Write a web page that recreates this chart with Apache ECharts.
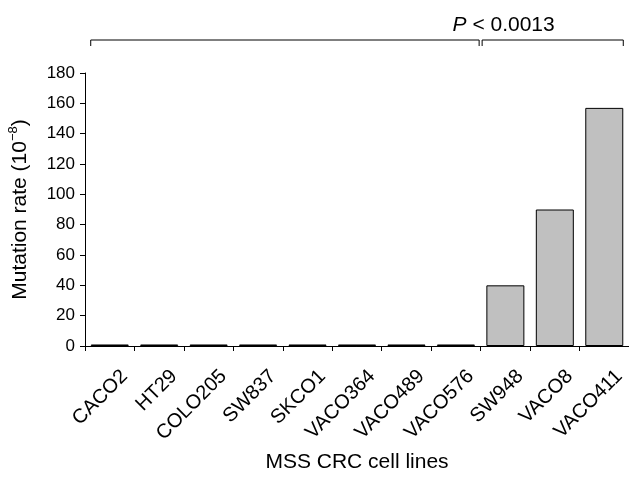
<!DOCTYPE html>
<html>
<head>
<meta charset="utf-8">
<script src="https://cdn.jsdelivr.net/npm/echarts@6/dist/echarts.min.js"></script>
<style>
  html, body { margin: 0; padding: 0; background: #fff; }
  #chart { width: 629px; height: 478px; }
</style>
</head>
<body>
<div id="chart"></div>
<script>
// cell lines and their mutation rates (x 10^-8)
const cellLines = ['CACO2', 'HT29', 'COLO205', 'SW837', 'SKCO1', 'VACO364', 'VACO489', 'VACO576', 'SW948', 'VACO8', 'VACO411'];
const mutationRate = [1, 1, 1, 1, 1, 1, 1, 1, 40, 90, 157];
const yTicks = [0, 180, 20]; // min, max, interval
const pLabel = '0.0013';

const FONT = 'Liberation Sans, Arial, sans-serif';
let myChart = echarts.init(document.getElementById('chart'));

myChart.setOption({
  animation: false,
  grid: { left: 85, right: 0, top: 73, bottom: 132, outerBoundsMode: 'none' },
  xAxis: {
    type: 'category',
    data: cellLines,
    name: 'MSS CRC cell lines',
    nameLocation: 'middle',
    nameGap: 106,
    nameMoveOverlap: false,
    nameTextStyle: { color: '#000', fontSize: 21, fontFamily: FONT, verticalAlign: 'top' },
    axisLine: { lineStyle: { color: '#000', width: 1 } },
    axisTick: { show: true, length: 5, lineStyle: { color: '#000' } },
    axisLabel: {
      rotate: 45, margin: 42, color: '#000', fontSize: 20, fontFamily: FONT,
      interval: 0, padding: [0, -21, 0, 0]
    }
  },
  yAxis: {
    type: 'value',
    min: yTicks[0], max: yTicks[1], interval: yTicks[2],
    name: '{n|Mutation rate (10}{s|−8}{n|)}',
    nameLocation: 'middle',
    nameRotate: 90,
    nameGap: 52,
    nameMoveOverlap: false,
    nameTextStyle: {
      color: '#000', fontFamily: FONT,
      rich: {
        n: { fontSize: 21, fontFamily: FONT, color: '#000', lineHeight: 26 },
        s: { fontSize: 13, fontFamily: FONT, color: '#000', verticalAlign: 'top', lineHeight: 26 }
      }
    },
    splitLine: { show: false },
    axisLine: { show: true, lineStyle: { color: '#000', width: 1 } },
    axisTick: { show: true, length: 5, lineStyle: { color: '#000' } },
    axisLabel: { margin: 10, color: '#000', fontSize: 17, fontFamily: FONT }
  },
  series: [{
    type: 'bar',
    data: mutationRate,
    barWidth: 38,
    itemStyle: { color: '#c0c0c0', borderColor: '#000', borderWidth: 1 }
  }]
});

// significance bracket, placed from the axis scale
function drawBracket() {
  const half = 19;
  const x0 = myChart.convertToPixel({ xAxisIndex: 0 }, cellLines[0]) - half;
  const xs = myChart.convertToPixel({ xAxisIndex: 0 }, cellLines[7]);
  const xe = myChart.convertToPixel({ xAxisIndex: 0 }, cellLines[8]);
  const xj = (xs + xe) / 2;
  const x1 = myChart.convertToPixel({ xAxisIndex: 0 }, cellLines[10]) + half;
  const y = 40, drop = 6;
  const ls = { stroke: '#000', lineWidth: 1, fill: null };
  myChart.setOption({
    graphic: [
      { type: 'polyline', shape: { points: [[x0, y + drop], [x0, y], [xj - 1.5, y], [xj - 1.5, y + drop]] }, style: ls },
      { type: 'polyline', shape: { points: [[xj + 1.5, y + drop], [xj + 1.5, y], [x1, y], [x1, y + drop]] }, style: ls },
      {
        type: 'text', x: xj + 23, y: 25,
        style: {
          text: '{i|P}{n| < ' + pLabel + '}',
          align: 'center', verticalAlign: 'middle',
          rich: {
            i: { fontSize: 21, fontStyle: 'italic', fontFamily: FONT, fill: '#000' },
            n: { fontSize: 21, fontFamily: FONT, fill: '#000' }
          }
        }
      }
    ]
  });
}
drawBracket();
</script>
</body>
</html>
